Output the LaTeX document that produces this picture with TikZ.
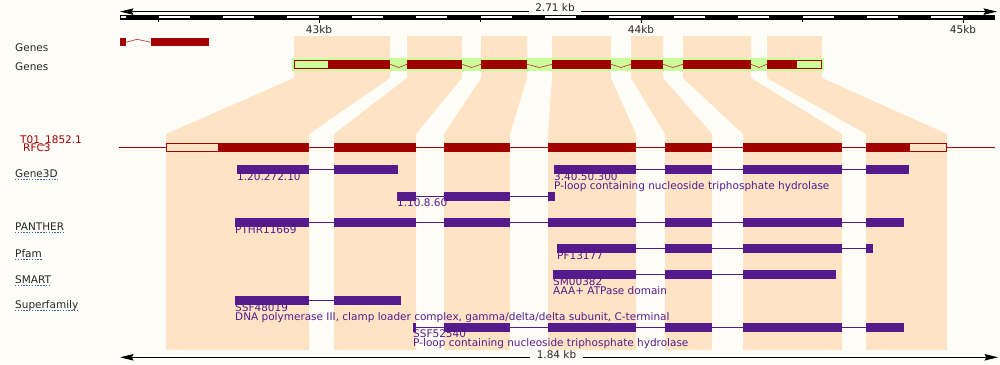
\documentclass[tikz,border=0pt]{standalone}
\usepackage{fontspec}
\setmainfont{DejaVu Sans}
\usetikzlibrary{arrows.meta}

\definecolor{exonred}{RGB}{160,0,0}
\definecolor{dompurple}{RGB}{85,26,139}
\definecolor{peach}{RGB}{254,227,196}
\definecolor{genegreen}{RGB}{204,255,153}
\definecolor{bgcream}{RGB}{254,253,248}
\definecolor{linkblue}{RGB}{51,102,170}

\tikzset{
    tracklabel/.style={anchor=base west, inner sep=0pt, text=black!85},
    redlabel/.style={anchor=base west, inner sep=0pt, text=exonred},
    domlabel/.style={anchor=base west, inner sep=0pt, text=dompurple},
    ticklabel/.style={anchor=base, inner sep=0pt, text=black!85},
    lenlabel/.style={anchor=base, inner xsep=5.5pt, inner ysep=0pt, text=black!85},
    dotline/.style={linkblue, line width=0.7pt, dash pattern=on 1.2pt off 1.2pt},
    rulerarrow/.style={line width=0.8pt, -{Stealth[length=11.5pt, width=5.5pt, inset=1.5pt]}},
    intron/.style={exonred!75, line width=0.6pt},
    exonbox/.style={fill=exonred},
    dombox/.style={fill=dompurple},
    domline/.style={dompurple, line width=0.8pt}
}

\begin{document}
\begin{tikzpicture}[x=0.03cm, y=-0.03cm, font=\fontsize{8.95}{10}\selectfont]
        \fill[bgcream] (0,0) rectangle (1000,365);
        \useasboundingbox (0,0) rectangle (1000,365);

        % scale bar
        \fill (120,15) rectangle (995,19.5);
        \fill[white] (120.7,16.3) rectangle (125.6,18.3);
        \foreach \k in {0,...,12}
            \fill[white] (158.6+64.4*\k,16.3) rectangle (189.8+64.4*\k,18.3);
        \foreach \x in {158.5,480,802}
            \draw[line width=0.6pt] (\x,19) -- (\x,21.5);
        \foreach \x/\t in {319/43,641/44,963/45} {
            \draw[line width=0.6pt] (\x,19) -- (\x,22.5);
            \node[ticklabel] (kb\t) at (\x,33.7) {\t kb};
        }

        \coordinate (topL) at (120,11.6);
        \coordinate (topR) at (997,11.6);
        \node[lenlabel] (toplen) at (555,11.7) {2.71 kb};
        \draw[rulerarrow] (toplen.west |- topL) -- (topL);
        \draw[rulerarrow] (toplen.east |- topR) -- (topR);

        % exon projections
        \foreach \ta/\tb/\ba/\bb in {294/390/166/309, 407/462/334/416, 481/527/444/510,
                552/611/548/636, 631/663/665/712, 683/751/743/842, 767/822/866/947}
            \fill[peach] (\ta,36) -- (\tb,36) -- (\tb,78) -- (\bb,134) -- (\bb,350)
                -- (\ba,350) -- (\ba,134) -- (\ta,78) -- cycle;

        % genes
        \node[tracklabel] (genesA) at (15,51) {Genes};
        \node[tracklabel] (genesB) at (15,70.7) {Genes};

        \draw[intron] (126,42.3) -- (137,39.3) -- (151,42.3);
        \fill[exonbox] (120,38) rectangle (126,46.3);
        \fill[exonbox] (151,38) rectangle (209,46.3);

        \fill[genegreen] (292,57.5) rectangle (824,71);
        \foreach \a/\b in {390/407,462/481,527/552,611/631,663/683,751/767}
            \draw[intron] (\a,64.3) -- ({(\a+\b)/2},67.5) -- (\b,64.3);
        \foreach \a/\b in {328/390,407/462,481/527,552/611,631/663,683/751,767/796}
            \fill[exonbox] (\a,60) rectangle (\b,68.7);
        \draw[exonred, fill=genegreen, line width=0.8pt] (294.5,60.5) rectangle (328,68.2);
        \draw[exonred, fill=genegreen, line width=0.8pt] (796,60.5) rectangle (821.5,68.2);

        % transcript
        \node[redlabel] (trname) at (20,143.3) {T01\_1852.1};
        \node[redlabel] (trgene) at (23,151.3) {RFC3};
        \draw[exonred, line width=0.8pt] (119,147.3) -- (995,147.3);
        \foreach \a/\b in {218/309,334/416,444/510,548/636,665/712,743/842,866/909}
            \fill[exonbox] (\a,143) rectangle (\b,151.7);
        \draw[exonred, fill=peach, line width=0.8pt] (166.5,143.5) rectangle (218,151.2);
        \draw[exonred, fill=peach, line width=0.8pt] (909,143.5) rectangle (946.5,151.2);

        % track names
        \node[tracklabel] (gene3d) at (15,177.7) {Gene3D};
        \node[tracklabel] (panther) at (15,230.7) {PANTHER};
        \node[tracklabel] (pfam) at (15,257) {Pfam};
        \node[tracklabel] (smart) at (15,283) {SMART};
        \node[tracklabel] (superfam) at (15,308.7) {Superfamily};
        \foreach \n in {gene3d,panther,pfam,smart,superfam}
            \draw[dotline] ([yshift=-1.8pt]\n.base west) -- ([yshift=-1.8pt]\n.base east);

        % Gene3D
        \draw[domline] (237,169.3) -- (398,169.3);
        \foreach \a/\b in {237/309,334/398}
            \fill[dombox] (\a,165) rectangle (\b,173.7);
        \node[domlabel] (g3dA) at (237,180) {1.20.272.10};

        \draw[domline] (554,169.3) -- (909,169.3);
        \foreach \a/\b in {554/636,665/712,743/842,866/909}
            \fill[dombox] (\a,165) rectangle (\b,173.7);
        \node[domlabel] (g3dB) at (554,180.3) {3.40.50.300};
        \node[domlabel] (g3dBdesc) at (554,189) {P-loop containing nucleoside triphosphate hydrolase};

        \draw[domline] (397,196.3) -- (555,196.3);
        \foreach \a/\b in {397/416,444/510,548/555}
            \fill[dombox] (\a,192) rectangle (\b,200.7);
        \node[domlabel] (g3dC) at (397,206.7) {1.10.8.60};

        % PANTHER
        \draw[domline] (235,222.3) -- (904,222.3);
        \foreach \a/\b in {235/309,334/416,444/510,548/636,665/712,743/842,866/904}
            \fill[dombox] (\a,218) rectangle (\b,226.7);
        \node[domlabel] (pthr) at (235,233) {PTHR11669};

        % Pfam
        \draw[domline] (557,248.3) -- (873,248.3);
        \foreach \a/\b in {557/636,665/712,743/842,866/873}
            \fill[dombox] (\a,244) rectangle (\b,252.7);
        \node[domlabel] (pf) at (557,259) {PF13177};

        % SMART
        \draw[domline] (553,274.3) -- (836,274.3);
        \foreach \a/\b in {553/636,665/712,743/836}
            \fill[dombox] (\a,270) rectangle (\b,278.7);
        \node[domlabel] (sm) at (553,285) {SM00382};
        \node[domlabel] (smdesc) at (553,294) {AAA+ ATPase domain};

        % Superfamily
        \draw[domline] (235,300.3) -- (401,300.3);
        \foreach \a/\b in {235/309,334/401}
            \fill[dombox] (\a,296) rectangle (\b,304.7);
        \node[domlabel] (ssfA) at (235,311) {SSF48019};
        \node[domlabel] (ssfAdesc) at (235,320.3) {DNA polymerase III, clamp loader complex, gamma/delta/delta subunit, C-terminal};

        \draw[domline] (413,327.3) -- (904,327.3);
        \foreach \a/\b in {413/416,444/510,548/636,665/712,743/842,866/904}
            \fill[dombox] (\a,323) rectangle (\b,331.7);
        \node[domlabel] (ssfB) at (413,337.3) {SSF52540};
        \node[domlabel] (ssfBdesc) at (413,346.7) {P-loop containing nucleoside triphosphate hydrolase};

        % bottom length
        \coordinate (botL) at (120,357.3);
        \coordinate (botR) at (998,357.3);
        \node[lenlabel] (botlen) at (556.5,358.3) {1.84 kb};
        \draw[rulerarrow] (botlen.west |- botL) -- (botL);
        \draw[rulerarrow] (botlen.east |- botR) -- (botR);

    \end{tikzpicture}
\end{document}
